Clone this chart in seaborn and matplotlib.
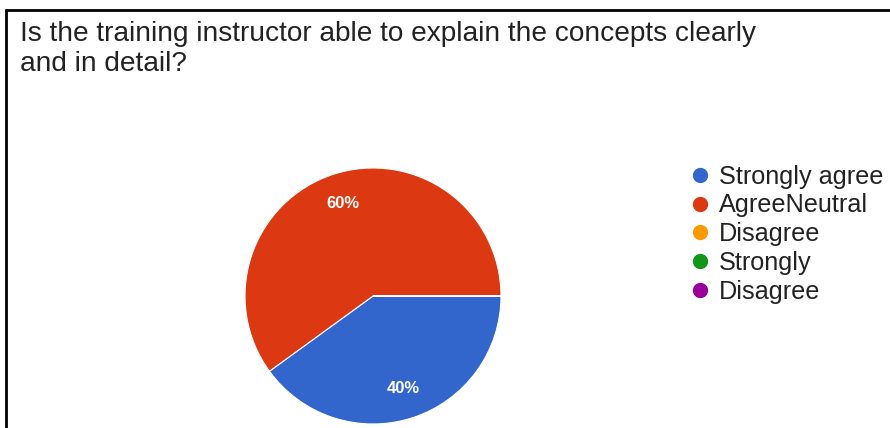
import matplotlib
matplotlib.use("Agg")
import matplotlib.pyplot as plt
from matplotlib.lines import Line2D
import seaborn as sns

# Survey responses
title = "Is the training instructor able to explain the concepts clearly\nand in detail?"
categories = ["Strongly agree", "AgreeNeutral", "Disagree", "Strongly", "Disagree"]
shares = [40, 60, 0, 0, 0]
colors = ["#3366CC", "#DC3912", "#FF9900", "#109618", "#990099"]

sns.set_style("white")
plt.rcParams["font.family"] = ["Liberation Sans", "DejaVu Sans"]
palette = sns.color_palette(colors)

fig = plt.figure(figsize=(8.9, 4.28), dpi=100)
fig.patch.set_facecolor("white")

W, H = 890, 428
cx, cy, r = 373, 296, 128
ax = fig.add_axes([(cx - r) / W, (H - cy - r) / H, 2 * r / W, 2 * r / H])


def pct_label(p):
    return f"{p:.0f}%" if p > 0.5 else ""


wedges, texts, autotexts = ax.pie(
    shares,
    colors=palette,
    startangle=0,
    counterclock=False,
    autopct=pct_label,
    pctdistance=0.76,
    wedgeprops=dict(edgecolor="white", linewidth=0.8),
    textprops=dict(color="white", fontsize=12, fontweight="bold"),
)
ax.set_xlim(-1.0, 1.0)
ax.set_ylim(-1.0, 1.0)
ax.set_aspect("equal")
ax.axis("off")

# Legend with round markers
handles = [
    Line2D([0], [0], marker="o", linestyle="none", markersize=10,
           markerfacecolor=c, markeredgecolor=c)
    for c in palette
]
fig.legend(
    handles, categories,
    loc="upper left", bbox_to_anchor=(675 / W, 1 - 152 / H),
    frameon=False, fontsize=18.2, labelspacing=0.19,
    handletextpad=0.25, handlelength=1.0, borderpad=0.0,
    labelcolor="#222222",
)

# Title
fig.text(20 / W, 1 - 21 / H, title, ha="left", va="top",
         fontsize=20.2, color="#222222", linespacing=1.22)

# Frame edges
fig.add_artist(Line2D([6 / W, 1.0], [1 - 10 / H, 1 - 10 / H],
                      transform=fig.transFigure, color="black", linewidth=2))
fig.add_artist(Line2D([6 / W, 6 / W], [0, 1 - 10 / H],
                      transform=fig.transFigure, color="black", linewidth=2))

fig.savefig("out.png", dpi=100, facecolor="white")
